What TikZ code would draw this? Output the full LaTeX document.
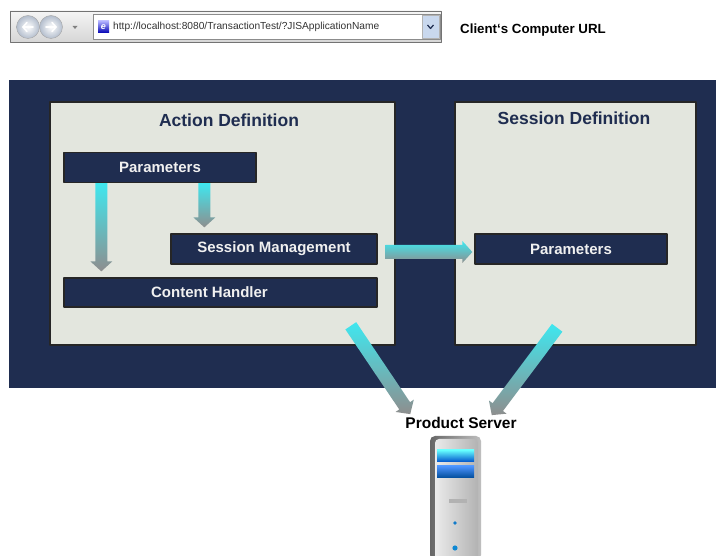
\documentclass[tikz,border=0pt]{standalone}
\usepackage{fontspec}
\setmainfont{Liberation Sans}
\usetikzlibrary{calc,positioning}

\definecolor{navy}{HTML}{1F2D50}
\definecolor{panel}{HTML}{E3E6DE}
\definecolor{flowcyan}{HTML}{3FE7EF}
\definecolor{flowgray}{HTML}{8E8E8E}
\definecolor{barblue}{HTML}{C9D8EE}

% shaded block arrow: tail, tip, shaft half width, shading angle
\newcommand\flowarrow[4]{%
  \coordinate (hb) at ($(#2)!10pt!(#1)$);
  \shade[shading angle=#4,top color=flowcyan,middle color=flowcyan!60!flowgray,bottom color=flowgray]
    ($(#1)!#3!90:(#2)$) -- ($(hb)!#3!90:(#2)$) -- ($(hb)!11pt!90:(#2)$) -- (#2)
    -- ($(hb)!11pt!-90:(#2)$) -- ($(hb)!#3!-90:(#2)$) -- ($(#1)!#3!-90:(#2)$) -- cycle;}

\begin{document}
\begin{tikzpicture}[x=1pt,y=-1pt,line join=round,
  panelbox/.style={draw=black!85,line width=1.6pt,fill=panel,minimum width=#1,minimum height=243pt,inner sep=0pt},
  itembox/.style={draw=black!85,line width=1.3pt,fill=navy,text=white!94!black,
    font=\fontsize{15}{17}\selectfont\bfseries,minimum height=30pt,inner sep=0pt},
  paneltitle/.style={text=navy,font=\fontsize{17.5}{20}\selectfont\bfseries,inner sep=0pt}]
\useasboundingbox (0,0) rectangle (716,556);
\fill[white] (0,0) rectangle (716,556);

% browser address bar
\shade[top color=white!96!black,bottom color=white!84!black,draw=black!55,line width=0.8pt]
  (10,11) rectangle (441,42);
\foreach \cx/\dir in {28/-1,51/1}{
  \shade[inner color=white,outer color=barblue!70!gray,draw=black!35] (\cx,27) circle (11.5);
  \draw[white,line width=1.6pt,line cap=round] (\cx-5*\dir,27) -- (\cx+5*\dir,27);
  \draw[white,line width=1.6pt,line cap=round] (\cx+1*\dir,22.5) -- (\cx+5*\dir,27) -- (\cx+1*\dir,31.5);
}
\fill[black!50] (72.5,26) -- (77.5,26) -- (75,29) -- cycle;
\draw[fill=white,draw=black!45] (93,14) rectangle (440,39);
\shade[top color=blue!30,bottom color=blue!70!black] (98,21) rectangle (109,33);
\node[text=white,font=\fontsize{9}{9}\selectfont\bfseries\itshape,inner sep=0pt] (ie) at (103.5,27) {e};
\node[anchor=west,inner sep=0pt,font=\fontsize{10.2}{12}\selectfont,text=black!80] (url) at (113,27)
  {http://localhost:8080/TransactionTest/?JISApplicationName};
\draw[fill=barblue,draw=black!30] (422,15) rectangle (439,38);
\draw[navy,line width=1.2pt] (427.5,25) -- (430.5,28.5) -- (433.5,25);
\node[anchor=west,inner sep=0pt,font=\fontsize{13.3}{15}\selectfont\bfseries] (client) at (460,30)
  {Client‘s Computer URL};

% dark frame with the two definition panels
\fill[navy] (9,80) rectangle (716,388);
\node[panelbox=345pt] (action) at (222.5,223.5) {};
\node[panelbox=241pt] (session) at (575.5,223.5) {};
\node[paneltitle] (actitle) at (229,120) {Action Definition};
\node[paneltitle] (setitle) at (574,118) {Session Definition};

\node[itembox,minimum width=192pt] (parA) at (160,167.5) {Parameters};
\node[itembox,minimum width=206pt] (sesm) at (274,249) {Session Management};
\node[itembox,minimum width=313pt,minimum height=29pt] (content) at (220.5,292.5) {\hspace*{-22pt}Content Handler};
\node[itembox,minimum width=192pt] (parB) at (571,249) {Parameters};

% server label and tower
\node[inner sep=0pt,font=\fontsize{15.5}{17}\selectfont\bfseries] (srvlabel) at (461,423) {Product Server};
\shade[left color=black!60,right color=black!25,rounded corners=5pt] (430,436) rectangle (481,560);
\shade[left color=black!8,right color=black!30,rounded corners=4pt] (435,439) rectangle (478,560);
\shade[top color=cyan!60!white,bottom color=blue!60!cyan!80!black] (437,450) rectangle (474,462);
\shade[top color=cyan!40!blue!70,bottom color=blue!50!cyan!60!black] (437,466) rectangle (474,478);
\fill[black!30] (449,499) rectangle (467,503);
\fill[cyan!60!blue] (455,523) circle (1.8);
\fill[cyan!70!blue] (455,548) circle (2.6);

% flow arrows
\coordinate (t1) at ($(parA.south west)+(38,0)$);
\coordinate (h1) at ($(content.north west)+(38,-6)$);
\coordinate (t2) at ($(parA.south west)+(141,0)$);
\coordinate (h2) at ($(sesm.north west)+(34,-6)$);
\coordinate (t3) at ($(sesm.east)+(8,3)$);
\coordinate (h3) at ($(parB.west)+(-2,3)$);
\coordinate (t4) at ($(action.south east)+(-45,-20)$);
\coordinate (h4) at ($(srvlabel.north west)+(5,-3)$);
\coordinate (t5) at ($(session.south west)+(103,-18)$);
\coordinate (h5) at ($(srvlabel.north east)+(-25,-2)$);
\flowarrow{t1}{h1}{6pt}{0}
\flowarrow{t2}{h2}{6pt}{0}
\flowarrow{t3}{h3}{7pt}{90}
\flowarrow{t4}{h4}{6.5pt}{35}
\flowarrow{t5}{h5}{6.5pt}{-36}
\end{tikzpicture}
\end{document}
